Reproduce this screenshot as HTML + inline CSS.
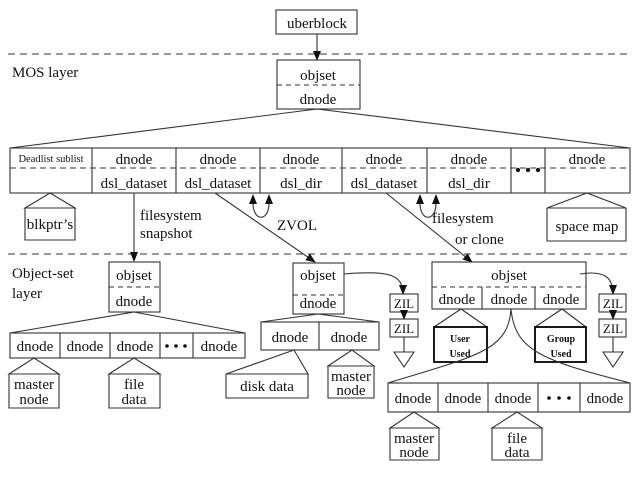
<!DOCTYPE html>
<html><head><meta charset="utf-8"><style>
body{margin:0;background:#fff}
svg{display:block}
text{font-family:"Liberation Serif",serif;fill:#111}
</style></head><body>
<svg width="638" height="479" viewBox="0 0 638 479" xmlns="http://www.w3.org/2000/svg">
<defs>
<marker id="b" markerWidth="10" markerHeight="10" refX="9" refY="5" orient="auto" markerUnits="userSpaceOnUse"><path d="M0,1 L10,5 L0,9 z" fill="#111"/></marker></defs>
<g stroke="#333" fill="none" stroke-width="1.1">
<line x1="8" y1="54" x2="632" y2="54" stroke-dasharray="7,5"/>
<line x1="8" y1="254" x2="632" y2="254" stroke-dasharray="7,5"/>
<rect x="276" y="10" width="81" height="24"/>
<line x1="317" y1="34" x2="317" y2="60" marker-end="url(#b)"/>
<rect x="277" y="60" width="83" height="49"/>
<line x1="277" y1="85" x2="360" y2="85" stroke-dasharray="5,4"/>
<path d="M317,109 L10,148 M317,109 L630,148"/>
<rect x="10" y="148" width="620" height="45"/>
<line x1="10" y1="168" x2="630" y2="168" stroke-dasharray="6,4"/>
<path d="M92,148V193 M176,148V193 M260,148V193 M342,148V193 M427,148V193 M511,148V193 M545,148V193"/>
<path d="M25,208 L50,193 L75,208 Z M25,208V240H75V208"/>
<path d="M547,208 L587,193 L626,208 Z M547,208V241H626V208"/>
<line x1="134" y1="193" x2="134" y2="261" marker-end="url(#b)"/>
<line x1="215" y1="193" x2="315" y2="262" marker-end="url(#b)"/>
<line x1="386" y1="193" x2="472" y2="262" marker-end="url(#b)"/>
<path d="M253,203 C253,222 269,222 269,203"/>
<path d="M420,203 C420,222 436,222 436,203"/>
<rect x="109" y="262" width="51" height="50"/>
<line x1="109" y1="287" x2="160" y2="287" stroke-dasharray="5,4"/>
<path d="M134,312 L10,333 M134,312 L245,333"/>
<rect x="10" y="333" width="235" height="25"/>
<path d="M60,333V358 M110,333V358 M160,333V358 M193,333V358"/>
<path d="M9,374 L34,358 L59,374 Z M9,374V408H59V374"/>
<path d="M109,374 L134,358 L160,374 Z M109,374V408H160V374"/>
<rect x="293" y="263" width="51" height="51"/>
<line x1="293" y1="295" x2="344" y2="295" stroke-dasharray="5,4"/>
<path d="M318,314 L261,322 M318,314 L379,322"/>
<rect x="261" y="322" width="118" height="28"/>
<line x1="319" y1="322" x2="319" y2="350"/>
<path d="M226,374 L294,350 L308,374 Z M226,374V398H308V374"/>
<path d="M328,366 L352,350 L374,366 Z M328,366V398H374V366"/>
<path d="M344,274 C390,270 403,275 403,294" marker-end="url(#b)"/>
<rect x="390" y="294" width="28" height="18"/>
<line x1="404" y1="312" x2="404" y2="319" marker-end="url(#b)"/>
<rect x="390" y="319" width="28" height="18"/>
<path d="M404,337V352 M394,352H414L404,367Z"/>
<rect x="432" y="262" width="154" height="47"/>
<line x1="432" y1="287" x2="586" y2="287" stroke-dasharray="5,4"/>
<path d="M482,287V309 M535,287V309"/>
<path d="M580,274 C605,270 613,278 613,294" marker-end="url(#b)"/>
<rect x="599" y="294" width="27" height="18"/>
<line x1="613" y1="312" x2="613" y2="319" marker-end="url(#b)"/>
<rect x="599" y="319" width="27" height="18"/>
<path d="M613,337V352 M603,352H623L613,367Z"/>
<path d="M461,309 L434,327 M461,309 L487,327 M562,309 L535,327 M562,309 L586,327"/>
<rect x="434" y="327" width="53" height="35" stroke="#000" stroke-width="1.8"/>
<rect x="535" y="327" width="51" height="35" stroke="#000" stroke-width="1.8"/>
<path d="M511,309 C508,350 480,355 388,383 M511,309 C515,350 540,360 630,383"/>
<rect x="388" y="383" width="242" height="29"/>
<path d="M438,383V412 M488,383V412 M538,383V412 M580,383V412"/>
<path d="M390,428 L414,412 L439,428 Z M390,428V460H439V428"/>
<path d="M492,428 L517,412 L542,428 Z M492,428V460H542V428"/>
</g>
<g fill="#111">
<path d="M249,204 L253,194 L257,204 Z M265,204 L269,194 L273,204 Z M416,204 L420,194 L424,204 Z M432,204 L436,194 L440,204 Z"/>
<circle cx="518" cy="170" r="2.2"/><circle cx="528" cy="170" r="2.2"/><circle cx="538" cy="170" r="2.2"/>
<circle cx="167" cy="346" r="1.8"/><circle cx="176" cy="346" r="1.8"/><circle cx="185" cy="346" r="1.8"/>
<circle cx="549" cy="398" r="1.8"/><circle cx="559" cy="398" r="1.8"/><circle cx="569" cy="398" r="1.8"/></g>
<g font-size="15" text-anchor="middle">
<text x="317" y="28">uberblock</text>
<text x="318" y="80">objset</text><text x="318" y="104">dnode</text>
<text x="51" y="162" font-size="10.5">Deadlist sublist</text>
<text x="134" y="164">dnode</text><text x="218" y="164">dnode</text><text x="301" y="164">dnode</text><text x="384" y="164">dnode</text><text x="469" y="164">dnode</text><text x="587" y="164">dnode</text>
<text x="134" y="188">dsl_dataset</text><text x="218" y="188">dsl_dataset</text><text x="301" y="188">dsl_dir</text><text x="384" y="188">dsl_dataset</text><text x="469" y="188">dsl_dir</text>
<text x="50" y="229">blkptr’s</text><text x="587" y="231">space map</text>
<text x="134" y="280">objset</text><text x="134" y="306">dnode</text>
<text x="35" y="351">dnode</text><text x="85" y="351">dnode</text><text x="135" y="351">dnode</text><text x="219" y="351">dnode</text>
<text x="34" y="389">master</text><text x="34" y="404">node</text>
<text x="134" y="389">file</text><text x="134" y="404">data</text>
<text x="318" y="280">objset</text><text x="318" y="308">dnode</text>
<text x="290" y="342">dnode</text><text x="349" y="342">dnode</text>
<text x="267" y="391">disk data</text>
<text x="351" y="381">master</text><text x="351" y="395">node</text>
<text x="404" y="308" font-size="13">ZIL</text><text x="404" y="333" font-size="13">ZIL</text>
<text x="613" y="308" font-size="13">ZIL</text><text x="613" y="333" font-size="13">ZIL</text>
<text x="509" y="280">objset</text>
<text x="457" y="304">dnode</text><text x="509" y="304">dnode</text><text x="561" y="304">dnode</text>
<text x="460" y="342" font-size="10" font-weight="bold">User</text><text x="460" y="357" font-size="10" font-weight="bold">Used</text>
<text x="561" y="342" font-size="10" font-weight="bold">Group</text><text x="561" y="357" font-size="10" font-weight="bold">Used</text>
<text x="413" y="403">dnode</text><text x="463" y="403">dnode</text><text x="513" y="403">dnode</text><text x="605" y="403">dnode</text>
<text x="414" y="443">master</text><text x="414" y="457">node</text>
<text x="517" y="443">file</text><text x="517" y="457">data</text>
</g>
<g font-size="15">
<text x="12" y="77">MOS layer</text>
<text x="12" y="278">Object-set</text><text x="12" y="298">layer</text>
<text x="140" y="220">filesystem</text><text x="140" y="238">snapshot</text>
<text x="277" y="230">ZVOL</text>
<text x="432" y="223">filesystem</text><text x="455" y="244">or clone</text>
</g>
</svg>
</body></html>
